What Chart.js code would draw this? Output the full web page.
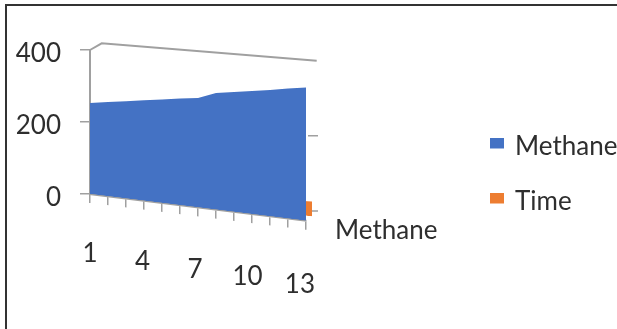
<!DOCTYPE html>
<html>
<head>
<meta charset="utf-8">
<script src="https://cdn.jsdelivr.net/npm/chart.js@4.4.1/dist/chart.umd.min.js"></script>
<style>
  html, body { margin: 0; padding: 0; background: #ffffff; }
  canvas { display: block; }
</style>
</head>
<body>
<canvas id="chart" width="617" height="329"></canvas>
<script>
// ---- data ----
const categories = ['1', '2', '3', '4', '5', '6', '7', '8', '9', '10', '11', '12', '13'];
const shownCategoryTicks = ['1', '4', '7', '10', '13'];
const valueTicks = [0, 200, 400];
const seriesNames = ['Methane', 'Time'];
const methane = [253, 262, 270, 279, 287, 296, 304, 324, 333, 342, 351, 361, 370];
const time = [2, 5, 8, 12, 15, 18, 22, 25, 28, 32, 35, 38, 42];

// ---- styles ----
const BLUE = '#4472C4';
const ORANGE = '#ED7D31';
const TEXT = '#2e2e2e';
const GREY = '#a0a0a0';
const FONT = 'Lato, "Liberation Sans", sans-serif';

// 3-D look: floor slopes down to the right, back row sits a little behind.
const FLOOR_SLOPE = 0.124;
const LABEL_SLOPE = 0.144;
const LABEL_DRIFT = 0.028;
const BACK_ROW = { dx: 6, dy: -5 };
const WALL = { sideX: 11.7, sideY: 6.7, backX: 10.7, backTopDrop: 10.7, backBaseDrop: 17 };

Chart.defaults.font.family = FONT;
Chart.defaults.font.size = 26;
Chart.defaults.color = TEXT;

// Category axis drawn along the slanted floor edge.
class FloorScale extends Chart.CategoryScale {
  draw(chartArea) {
    const ctx = this.ctx;
    ctx.save();
    ctx.transform(1, FLOOR_SLOPE, 0, 1, 0, -FLOOR_SLOPE * this.left);
    this.drawBackground();
    this.drawGrid(chartArea);
    if (this.drawBorder) this.drawBorder();
    ctx.restore();
    this.drawTitle();
    this.drawLabels(chartArea);
  }
  _computeLabelItems(chartArea) {
    const items = super._computeLabelItems(chartArea);
    const x0 = this.left;
    for (const item of items) {
      const t = item.options && item.options.translation ? item.options.translation : item.translation;
      if (!t) continue;
      const d = t[0] - x0;
      t[0] -= LABEL_DRIFT * d;
      t[1] += LABEL_SLOPE * d;
    }
    return items;
  }
}
FloorScale.id = 'floor';
Chart.register(FloorScale);

// Legend swatch: small square sitting toward the top of the text line.
function legendSwatch(color) {
  const c = document.createElement('canvas');
  c.width = 14;
  c.height = 19;
  const g = c.getContext('2d');
  g.fillStyle = color;
  g.fillRect(0, 0, 14, 11);
  return c;
}

const frame = {
  id: 'frame',
  beforeDraw(chart) {
    const { ctx, width, height } = chart;
    ctx.save();
    ctx.fillStyle = '#ffffff';
    ctx.fillRect(0, 0, width, height);
    ctx.strokeStyle = '#333333';
    ctx.lineWidth = 2;
    ctx.beginPath();
    ctx.moveTo(6, height);
    ctx.lineTo(6, 5);
    ctx.lineTo(width, 5);
    ctx.stroke();
    ctx.restore();
  }
};

const depthView = {
  id: 'depthView',
  beforeDatasetsDraw(chart) {
    const { ctx, chartArea } = chart;
    const yScale = chart.scales.y;
    const L = chartArea.left, R = chartArea.right;
    const yTop = yScale.getPixelForValue(valueTicks[valueTicks.length - 1]);
    const yBase = yScale.getPixelForValue(valueTicks[0]);

    // wall edges
    ctx.save();
    ctx.strokeStyle = GREY;
    ctx.lineWidth = 2;
    ctx.beginPath();
    ctx.moveTo(L, yTop);
    ctx.lineTo(L + WALL.sideX, yTop - WALL.sideY);
    ctx.lineTo(R + WALL.backX, yTop + WALL.backTopDrop);
    ctx.stroke();
    // value ticks on the far right wall
    const backTop = yTop + WALL.backTopDrop;
    const backBase = yBase + WALL.backBaseDrop;
    const topValue = valueTicks[valueTicks.length - 1];
    ctx.lineWidth = 1.5;
    ctx.beginPath();
    for (const v of valueTicks.slice(0, -1)) {
      const yy = backBase + (v / topValue) * (backTop - backBase);
      ctx.moveTo(R + 2, yy);
      ctx.lineTo(R + 12, yy);
    }
    ctx.stroke();
    ctx.restore();

    // slant the plot for the series; back row first
    ctx.save();
    ctx.transform(1, FLOOR_SLOPE, 0, 1, 0, -FLOOR_SLOPE * L);
    ctx.translate(BACK_ROW.dx, BACK_ROW.dy);
  },
  afterDatasetDraw(chart, args) {
    if (args.index === 1) chart.ctx.translate(-BACK_ROW.dx, -BACK_ROW.dy);
  },
  afterDatasetsDraw(chart) {
    chart.ctx.restore();
  },
  afterDraw(chart) {
    const { ctx, chartArea } = chart;
    ctx.save();
    ctx.font = '26px ' + FONT;
    ctx.fillStyle = TEXT;
    ctx.textAlign = 'left';
    ctx.textBaseline = 'middle';
    ctx.fillText(chart.data.datasets[0].label, chartArea.right + 29, chartArea.bottom + 37);
    ctx.restore();
  }
};

new Chart(document.getElementById('chart'), {
  type: 'line',
  data: {
    labels: categories,
    datasets: [
      {
        label: seriesNames[0],
        data: methane,
        yAxisID: 'y',
        backgroundColor: BLUE,
        borderColor: BLUE,
        borderWidth: 0,
        pointRadius: 0,
        pointStyle: legendSwatch(BLUE),
        fill: 'origin',
        tension: 0
      },
      {
        label: seriesNames[1],
        data: time,
        yAxisID: 'y',
        backgroundColor: ORANGE,
        borderColor: ORANGE,
        borderWidth: 0,
        pointRadius: 0,
        pointStyle: legendSwatch(ORANGE),
        fill: 'origin',
        tension: 0
      }
    ]
  },
  options: {
    responsive: false,
    animation: false,
    devicePixelRatio: 1,
    layout: { padding: { left: 0, top: 50, right: 0, bottom: 30 } },
    plugins: {
      legend: {
        position: 'right',
        align: 'center',
        maxWidth: 154,
        labels: {
          usePointStyle: true,
          boxWidth: 10,
          boxHeight: 11,
          padding: 29,
          color: TEXT,
          font: { size: 26, family: FONT }
        }
      },
      tooltip: { enabled: false }
    },
    scales: {
      x: {
        type: 'floor',
        position: 'bottom',
        offset: false,
        grid: { display: true, drawOnChartArea: false, drawTicks: true, tickLength: 9, color: GREY, lineWidth: 1.5 },
        border: { display: true, color: GREY, width: 2 },
        ticks: {
          autoSkip: false,
          maxRotation: 0,
          padding: 35,
          color: TEXT,
          font: { size: 26, family: FONT },
          callback(value) {
            const lab = this.getLabelForValue(value);
            return shownCategoryTicks.includes(lab) ? lab : '';
          }
        },
        afterFit(scale) { scale.height = 105; }
      },
      y: {
        position: 'left',
        min: 0,
        max: 400,
        grid: { display: true, drawOnChartArea: false, drawTicks: true, tickLength: 10, color: GREY, lineWidth: 1.5 },
        border: { display: true, color: GREY, width: 2 },
        ticks: { padding: 19, labelOffset: 4, color: TEXT, font: { size: 26, family: FONT } },
        afterBuildTicks(scale) { scale.ticks = valueTicks.map(v => ({ value: v })); },
        afterFit(scale) { scale.width = 90; }
      },
      depth: {
        type: 'linear',
        position: 'right',
        display: true,
        grid: { display: false },
        border: { display: false },
        ticks: { display: false },
        afterFit(scale) { scale.width = 157; }
      }
    }
  },
  plugins: [frame, depthView]
});
</script>
</body>
</html>
